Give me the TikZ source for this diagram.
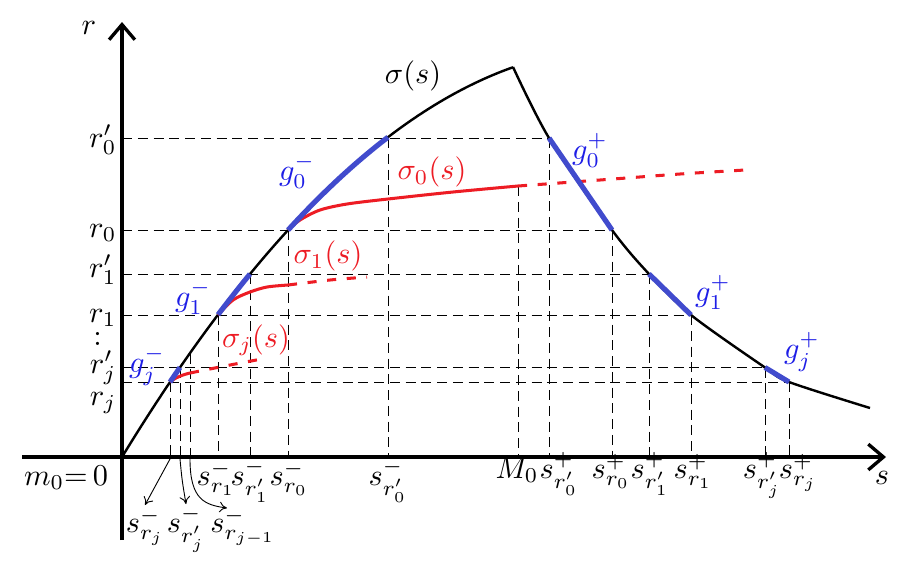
\documentclass[tikz,border=0pt]{standalone}
\usetikzlibrary{arrows.meta}
\definecolor{gblue}{RGB}{30,30,230}
\definecolor{segblue}{RGB}{65,75,205}
\definecolor{sred}{RGB}{237,28,36}
\begin{document}
\begin{tikzpicture}[x=0.33pt,y=-0.33pt,
  axis/.style={line width=1.1pt},
  curve/.style={line width=0.8pt},
  guide/.style={line width=0.33pt, dash pattern=on 3.3pt off 1.9pt},
  seg/.style={segblue, line width=1.7pt},
  sig/.style={sred, line width=1pt},
  sigdash/.style={sred, line width=1pt, dash pattern=on 3pt off 3.5pt},
  glab/.style={gblue, inner sep=0pt},
  slab/.style={sred, inner sep=0pt},
  lab/.style={inner sep=0pt},
  ptr/.style={line width=0.3pt, -{To[length=2.5pt,width=3.5pt]}},
  axtip/.style={-{Straight Barb[length=5pt,width=8.5pt]}},
  declare function={rise(\t)=457-(1.64*(\t-122)-(0.040559*(\t-122))^2);}
]
\useasboundingbox (0,0) rectangle (909,570);
% axis points
\coordinate (O) at (122,457);
\coordinate (Ytop) at (122,22);
\coordinate (Ybot) at (122,540);
\coordinate (Xl) at (22,457);
\coordinate (Xr) at (886,457);
% rising branch points
\coordinate (Pj) at (170,382);
\coordinate (Pjp) at (180,367.5);
\coordinate (Pjm) at (190,353.5);
\coordinate (P1) at (218,315);
\coordinate (P1p) at (250,274);
\coordinate (P0) at (288,230);
\coordinate (P0p) at (388,138);
\coordinate (Peak) at (513,67);
% falling branch points
\coordinate (Q0p) at (549,138);
\coordinate (Q0) at (612,230);
\coordinate (Q1p) at (649,274);
\coordinate (Q1) at (691,315);
\coordinate (Qjp) at (765,367.5);
\coordinate (Qj) at (789,382);
\coordinate (Qend) at (870,408);
\coordinate (M0) at (518,186);
% axis feet
\foreach \n/\x in {Pj/170,Pjp/180,Pjm/190,P1/218,P1p/250,P0/288,P0p/388,M0/518,Q0p/549,Q0/612,Q1p/649,Q1/691,Qjp/765,Qj/789}
  \coordinate (F\n) at (\x,457);
\foreach \n/\y in {Pj/382,Pjp/367.5,P1/315,P1p/274,P0/230,P0p/138}
  \coordinate (L\n) at (122,\y);

% guides
\foreach \a/\b in {LP0p/Q0p,LP0/Q0,LP1p/Q1p,LP1/Q1,LPjp/Qjp,LPj/Qj}
  \draw[guide] (\a) -- (\b);
\foreach \n in {Pj,Pjp,Pjm,P1,P1p,P0,P0p,M0,Q0p,Q0,Q1p,Q1,Qjp,Qj}
  \draw[guide] (\n) -- (F\n);

% sigma curve
\draw[curve] plot[domain=122:513,samples=80] (\x,{rise(\x)});
\draw[curve] plot[smooth] coordinates {(513,67) (549,138) (612,230) (649,274) (691,315) (765,367.5) (789,382) (870,408)};

% red curves
\draw[sig] plot[smooth] coordinates {(288,230) (300,220) (320,210) (347,204) (388,199) (453,192) (518,186)};
\draw[sigdash] plot[smooth] coordinates {(518,186) (600,180) (680,174) (745,170)};
\draw[sig] plot[smooth] coordinates {(218,315) (233,300) (250,292) (267,287) (288,285)};
\draw[sigdash] plot[smooth] coordinates {(288,285) (330,280) (367,277)};
\draw[sig] plot[smooth] coordinates {(170,382) (176,378) (183,375) (190,373)};
\draw[sigdash] plot[smooth] coordinates {(190,373) (230,365) (267,358)};

% blue segments
\draw[seg] plot[domain=170:180,samples=5] (\x,{rise(\x)});
\draw[seg] plot[domain=218:250,samples=10] (\x,{rise(\x)});
\draw[seg] plot[domain=288:388,samples=30] (\x,{rise(\x)});
\draw[seg] (Q0p) -- (Q0);
\draw[seg] (Q1p) -- (Q1);
\draw[seg] (Qjp) -- (Qj);

% axes
\draw[axis,axtip] (Ybot) -- (Ytop);
\draw[axis,axtip] (Xl) -- (Xr);

% axis labels
\node[lab] (rlab) at (89,28) {$r$};
\node[lab] (slab) at (882,478) {$s$};
\node[lab,anchor=base] (m0) at (66,485) {$m_0{=}\,0$};
\node[lab,anchor=base east] (yr0p) at (117,147) {$r_0'$};
\node[lab,anchor=base east] (yr0) at (117,237) {$r_0$};
\node[lab,anchor=base east] (yr1p) at (117,277) {$r_1'$};
\node[lab,anchor=base east] (yr1) at (117,322) {$r_1$};
\node[lab] (ydots) at (97.7,338.5) {$:$};
\node[lab,anchor=base east] (yrjp) at (117,373) {$r_j'$};
\node[lab,anchor=base east] (yrj) at (117,405) {$r_j$};

\node[lab,anchor=base] (xs1) at (216,485) {$s^-_{r_1}$};
\node[lab,anchor=base] (xs1p) at (250,485) {$s^-_{r_1'}$};
\node[lab,anchor=base] (xs0) at (289,485) {$s^-_{r_0}$};
\node[lab,anchor=base] (xs0p) at (388,485) {$s^-_{r_0'}$};
\node[lab,anchor=base] (xM0) at (517,478) {$M_0$};
\node[lab,anchor=base] (xt0p) at (559,478) {$s^+_{r_0'}$};
\node[lab,anchor=base] (xt0) at (611,478) {$s^+_{r_0}$};
\node[lab,anchor=base] (xt1p) at (650,478) {$s^+_{r_1'}$};
\node[lab,anchor=base] (xt1) at (693,478) {$s^+_{r_1}$};
\node[lab,anchor=base] (xtjp) at (762,478) {$s^+_{r_j'}$};
\node[lab,anchor=base] (xtj) at (798,478) {$s^+_{r_j}$};

\node[lab,anchor=base] (bj) at (145,532) {$s^-_{r_j}$};
\node[lab,anchor=base] (bjp) at (186,532) {$s^-_{r_j'}$};
\node[lab,anchor=base] (bjm) at (243,532) {$s^-_{r_{j-1}}$};

\coordinate (Aj) at (145,505);
\coordinate (Ajp) at (186,504);
\coordinate (Ajm) at (227,508);
\draw[ptr] (FPj) ++(0,2) -- (Aj);
\draw[ptr] (FPjp) ++(0,2) .. controls (182,480) .. (Ajp);
\draw[ptr] (FPjm) ++(0,2) .. controls (190,500) and (205,505) .. (Ajm);

% curve labels
\node[lab] (sig) at (413,76) {$\sigma(s)$};
\node[slab] (sig0) at (432,172) {$\sigma_0(s)$};
\node[slab] (sig1) at (328,256) {$\sigma_1(s)$};
\node[slab] (sigj) at (256,340) {$\sigma_j(s)$};
\node[glab] (g0m) at (297,171) {$g_0^-$};
\node[glab] (g1m) at (193,297) {$g_1^-$};
\node[glab] (gjm) at (147,366) {$g_j^-$};
\node[glab] (g0p) at (590,150) {$g_0^+$};
\node[glab] (g1p) at (713,292) {$g_1^+$};
\node[glab] (gjp) at (802,352) {$g_j^+$};
\end{tikzpicture}
\end{document}
